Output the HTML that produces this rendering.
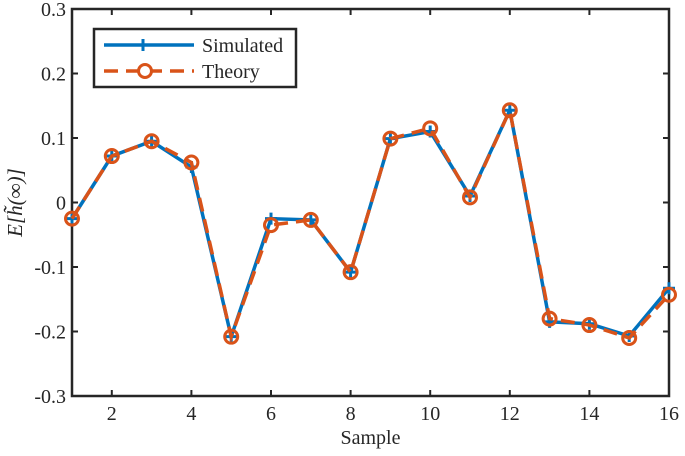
<!DOCTYPE html>
<html><head><meta charset="utf-8"><style>
body{margin:0;background:#fff}
svg text{font-family:"Liberation Serif",serif;fill:#262626}
</style></head><body>
<svg id="chart" width="685" height="451" xmlns="http://www.w3.org/2000/svg"></svg>
<script>
const samples=[1,2,3,4,5,6,7,8,9,10,11,12,13,14,15,16];
const simulated=[-0.025,0.072,0.095,0.055,-0.208,-0.025,-0.027,-0.108,0.099,0.11,0.01,0.143,-0.185,-0.188,-0.207,-0.133];
const theory=[-0.025,0.072,0.095,0.062,-0.208,-0.035,-0.027,-0.108,0.099,0.115,0.008,0.143,-0.18,-0.19,-0.21,-0.143];
const xTicks=[2,4,6,8,10,12,14,16];
const yTicks=[-0.3,-0.2,-0.1,0,0.1,0.2,0.3];
const yTickLabels=["-0.3","-0.2","-0.1","0","0.1","0.2","0.3"];

const L=72,R=669,T=9,B=396;
const xs=v=>L+(v-1)/15*(R-L);
const ys=v=>B-(v+0.3)/0.6*(B-T);
const svg=document.getElementById('chart');
const NS='http://www.w3.org/2000/svg';
function mk(tag,attrs,parent){const e=document.createElementNS(NS,tag);for(const k in attrs)e.setAttribute(k,attrs[k]);(parent||svg).appendChild(e);return e;}

const ax=mk('g',{});


xTicks.forEach(t=>{
  const x=xs(t);
  mk('line',{x1:x,x2:x,y1:B,y2:B-6,stroke:'#262626','stroke-width':2},ax);
  mk('line',{x1:x,x2:x,y1:T,y2:T+6,stroke:'#262626','stroke-width':2},ax);
  const tx=mk('text',{x:x,y:B+24,'text-anchor':'middle','font-size':20},ax);
  tx.textContent=t;
  
  
});
yTicks.forEach((t,i)=>{
  const y=ys(t);
  mk('line',{x1:L,x2:L+6,y1:y,y2:y,stroke:'#262626','stroke-width':2},ax);
  mk('line',{x1:R,x2:R-6,y1:y,y2:y,stroke:'#262626','stroke-width':2},ax);
  const tx=mk('text',{x:L-6,y:y+7,'text-anchor':'end','font-size':20},ax);
  tx.textContent=yTickLabels[i];
  
  
});
mk('rect',{x:L,y:T,width:R-L,height:B-T,fill:'none',stroke:'#262626','stroke-width':2.5},ax);

const xt=mk('text',{x:(L+R)/2,y:444,'text-anchor':'middle','font-size':20});
xt.textContent='Sample';


const yt=mk('text',{x:0,y:0,'text-anchor':'middle','font-size':21,'font-style':'italic',transform:'translate(22,'+((T+B)/2)+') rotate(-90)'});
yt.textContent='E[h̃(∞)]';



const sp=mk('polyline',{points:samples.map((s,i)=>xs(s)+','+ys(simulated[i])).join(' '),fill:'none',stroke:'#0072BD','stroke-width':3.5});


samples.forEach((s,i)=>{
  const g=mk('path',{d:`M${xs(s)-6},${ys(simulated[i])}h12M${xs(s)},${ys(simulated[i])-6}v12`,stroke:'#0072BD','stroke-width':3});
  
  
});
const tp=mk('polyline',{points:samples.map((s,i)=>xs(s)+','+ys(theory[i])).join(' '),fill:'none',stroke:'#D95319','stroke-width':3.5,'stroke-dasharray':'14 8'});


samples.forEach((s,i)=>{
  const c=mk('circle',{cx:xs(s),cy:ys(theory[i]),r:6.5,fill:'none',stroke:'#D95319','stroke-width':3});
  
  
});

const lg=mk('g',{});


mk('rect',{x:94,y:29,width:202,height:58,fill:'#fff',stroke:'#262626','stroke-width':2.5},lg);
mk('line',{x1:104,x2:194,y1:45,y2:45,stroke:'#0072BD','stroke-width':3.5},lg);
mk('path',{d:'M143,39v12M137,45h12',stroke:'#0072BD','stroke-width':3},lg);
const l1=mk('text',{x:202,y:52,'font-size':20},lg);l1.textContent='Simulated';


mk('line',{x1:104,x2:194,y1:71,y2:71,stroke:'#D95319','stroke-width':3.5,'stroke-dasharray':'14 8'},lg);
mk('circle',{cx:145,cy:71,r:6.5,fill:'#fff',stroke:'#D95319','stroke-width':3},lg);
const l2=mk('text',{x:202,y:78,'font-size':20},lg);l2.textContent='Theory';


</script>
</body></html>
